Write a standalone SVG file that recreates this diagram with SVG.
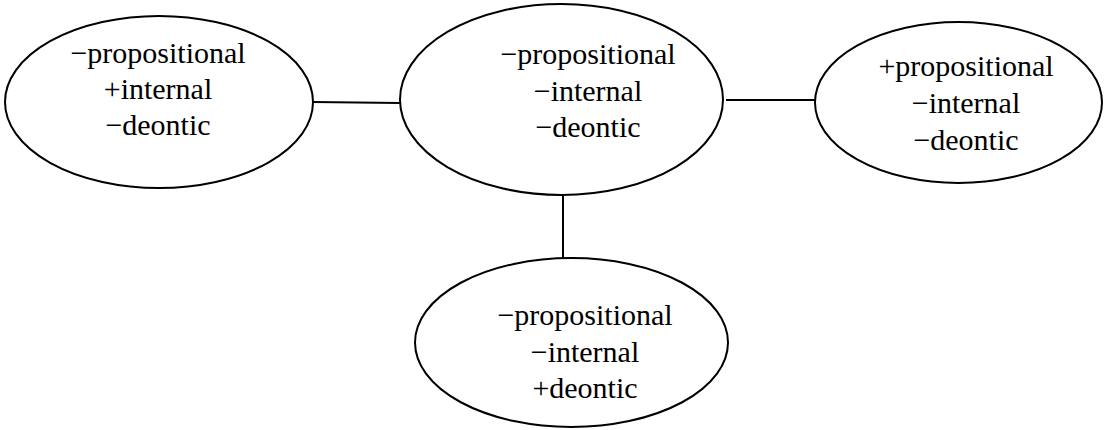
<svg xmlns="http://www.w3.org/2000/svg" width="1108" height="430" viewBox="0 0 1108 430">
  <style>
    .node ellipse { fill: #ffffff; stroke: #000000; stroke-width: 2; }
    .node text { font-size: 30px; fill: #000000; text-anchor: middle; }
    .edges line { stroke: #000000; stroke-width: 2; }
  </style>
  <rect width="1108" height="430" fill="#ffffff"/>

  <!-- links between the feature bundles -->
  <g class="edges" id="connectors">
    <line x1="313" y1="102" x2="400" y2="103"/>
    <line x1="726" y1="100" x2="815" y2="100"/>
    <line x1="563" y1="195" x2="563" y2="258"/>
  </g>

  <g class="node" id="node-left" font-family="Times New Roman, Liberation Serif, serif">
    <ellipse cx="159" cy="102" rx="154" ry="86"/>
    <text x="158" y="63">−propositional</text>
    <text x="158" y="99">+internal</text>
    <text x="158" y="135">−deontic</text>
  </g>

  <g class="node" id="node-center" font-family="Times New Roman, Liberation Serif, serif">
    <ellipse cx="561.5" cy="99.5" rx="161.5" ry="95.5"/>
    <text x="588" y="64">−propositional</text>
    <text x="588" y="101">−internal</text>
    <text x="588" y="137">−deontic</text>
  </g>

  <g class="node" id="node-right" font-family="Times New Roman, Liberation Serif, serif">
    <ellipse cx="958.5" cy="102.5" rx="143.5" ry="80.5"/>
    <text x="966" y="76">+propositional</text>
    <text x="966" y="113">−internal</text>
    <text x="966" y="150">−deontic</text>
  </g>

  <g class="node" id="node-bottom" font-family="Times New Roman, Liberation Serif, serif">
    <ellipse cx="571.5" cy="342.5" rx="156.5" ry="84.5"/>
    <text x="585" y="325">−propositional</text>
    <text x="585" y="362">−internal</text>
    <text x="585" y="398">+deontic</text>
  </g>
</svg>
